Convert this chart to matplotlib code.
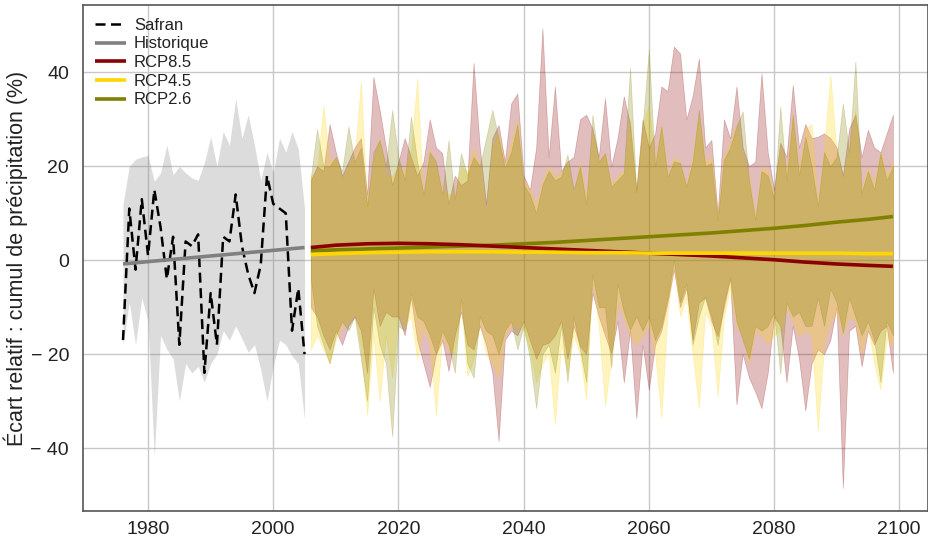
import numpy as np
import matplotlib
matplotlib.use("Agg")
import matplotlib.pyplot as plt

plt.rcParams['font.family'] = ['Liberation Sans', 'DejaVu Sans']

# ---------------- data ----------------
hist_years = list(range(1976, 2006))
safran = [-17, 11, -2, 13, 1, 15, 7, -4, 5, -18, 4, 3, 5.5, -24, -7, -18, 5, 4, 14, 3,
          -3, -7, -1, 18, 12, 11, 10, -15, -6, -20]
hist_upper = [12, 20, 21.5, 22, 22.3, 16.8, 18.6, 24.5, 18.2, 20, 18.6, 17.5, 17, 20.8, 26.3,
              20, 27.4, 24.5, 34.4, 26, 31, 24.5, 17, 23, 18.6, 26, 23, 27.4, 23.7, 11]
hist_lower = [-18, -9, -18, -8, -13, -42, -16, -19, -21, -30, -22, -24, -22.6, -26, -22,
              -20, -15, -17, -14, -16.7, -19.6, -18, -23.3, -30, -22.6, -17, -18, -20.4, -22, -34]
hist_line_years = [1976, 1980, 1985, 1990, 1995, 2000, 2005]
hist_line = [-0.8, -0.3, 0.3, 0.9, 1.5, 2.1, 2.7]

proj_years = list(range(2006, 2100))
rcp85_upper = [17, 20, 19, 29, 23, 18, 21, 24, 26, 14, 39, 32, 24, 16, 21, 26, 22, 18, 21, 30,
               24, 22.8, 12, 18, 16, 17, 42, 24, 12, 26, 28.8, 21, 33.4, 35.5,
               18, 15, 24, 49.4, 22, 37, 19, 21, 22, 30, 31, 28, 22, 34.5, 20, 26, 34.9, 29, 15, 30,
               24, 27, 37, 36, 45.5, 44, 30, 35, 43, 24,
               25.6, 10, 30, 26, 37, 24, 20, 21, 39.8, 23, 15, 25, 22, 37.3, 24, 29, 26, 26.3, 27, 26,
               24, 18, 28, 31, 22, 27.8, 24, 23, 27, 31]
rcp85_lower = [-10, -12, -16, -19, -15, -18, -14, -12, -15, -24, -6, -14, -11, -12, -12, -16, -8, -17,
               -22, -27, -20, -17, -23.6, -16, -11, -18, -19, -14, -18, -24, -38.5, -17, -15, -16,
               -13, -17, -21, -18, -17.6, -16, -13, -21, -14, -18.3, -20, -7, -12, -16, -19.8, -13,
               -26, -15, -33.6, -18, -27.6, -18, -15, -9, -2, -10, -6, -17, -9, -8,
               -13, -16.2, -10, -4, -30.7, -20, -25, -28, -31.5, -24, -12, -14, -26, -14, -21, -32,
               -22, -19, -20, -17, -10, -48.5, -15, -14, -22.6, -15, -18, -15, -14, -24]
rcp45_upper = [18, 19, 33, 21, 22, 17, 20, 22, 38, 12, 21, 26, 18, 18, 20, 19, 23, 38.8, 13, 24,
               20, 15, 14, 14, 20, 19, 24, 20, 9, 24, 27, 20, 25, 30,
               17, 15, 12, 17, 20, 18, 18.5, 21, 14, 21, 13, 27, 20.7, 23, 16, 18, 19, 30, 14, 29,
               33, 21, 29, 18, 22, 21, 16, 22, 31, 21,
               22, 9, 22, 25, 29, 22, 18, 9, 20, 19, 14, 24.2, 19, 31, 19, 28, 29, 12, 24, 39.5,
               23, 17, 24, 32, 15, 20, 16, 23, 18, 21]
rcp45_lower = [-19, -16, -19, -22, -17, -14, -13, -11, -19, -33, -16, -30, -16, -25, -11, -14, -12,
               -21, -14, -18, -33, -16, -19, -20, -9, -24.7, -21, -13, -20, -22, -25, -16, -14, -14,
               -15, -19, -26, -22, -20, -35, -18, -24, -16, -20, -29.7, -4, -14, -31, -21, -9, -12,
               -16, -18, -16, -14, -20, -33.6, -11, -1, -12, -8, -20, -31.5, -11,
               -14, -29, -12, -6, -14, -16, -22, -15, -16, -18, -16, -15, -10, -13, -16, -15, -16,
               -36.4, -18, -13, -11, -16, -12, -13, -20, -14, -22, -27.5, -17, -18]
rcp26_upper = [17.5, 28, 20, 20, 22, 19, 28.5, 21, 24, 11.5, 23, 25.6, 20, 32, 22, 17, 30.6, 21,
               14, 23, 21, 14, 25.6, 13, 22.8, 18, 22, 20, 26, 32, 26, 19.7, 23, 29,
               16, 14, 10, 16, 19, 17, 17.8, 22.5, 15, 20, 12, 31, 21, 22.8, 15.7, 17, 18.5, 41,
               14.5, 28.5, 44.8, 20, 28.5, 17.8, 21, 20.7, 15.7, 21, 32, 20,
               20.7, 8.6, 21.4, 24, 28.5, 31.7, 17, 8.6, 19, 18, 13, 32.7, 17, 31, 18, 26.3, 20,
               11.5, 23, 20, 22, 33.4, 23, 42.3, 14.3, 19, 15, 22.8, 17, 20]
rcp26_lower = [-4, -14, -18, -22, -16, -13, -15, -12, -21, -30, -10, -18, -22, -37.5, -14, -15, -7,
               -12, -13, -16, -20, -15, -18, -24, -8, -22, -25, -12, -15, -16, -20, -15, -13, -19,
               -14, -21, -31.5, -20, -18, -24, -14, -26, -12, -19, -26, -3, -10, -10, -23, -5, -11,
               -14.8, -12, -15, -12, -17, -14, -8, 0, -9, -5, -18, -12, -7.7,
               -12, -18, -9, -3.5, -13, -17, -21, -14, -15, -14, -11, -24.2, -9, -12, -11, -14, -14,
               -8, -14, -6, -9, -15.5, -8, -12, -16, -13, -17, -26, -13, -16]

line_years = [2006, 2010, 2015, 2020, 2025, 2030, 2035, 2040, 2045, 2050,
              2055, 2060, 2065, 2070, 2075, 2080, 2085, 2090, 2095, 2099]
rcp85_line = [2.7, 3.2, 3.5, 3.6, 3.5, 3.3, 3.0, 2.7, 2.4, 2.1,
              1.8, 1.5, 1.2, 0.9, 0.5, 0.1, -0.4, -0.8, -1.1, -1.3]
rcp45_line = [1.2, 1.4, 1.6, 1.7, 1.8, 1.8, 1.8, 1.7, 1.7, 1.6,
              1.6, 1.5, 1.5, 1.5, 1.5, 1.5, 1.5, 1.5, 1.4, 1.4]
rcp26_line = [2.0, 2.2, 2.4, 2.6, 2.8, 3.0, 3.2, 3.5, 3.8, 4.2,
              4.6, 5.0, 5.4, 5.8, 6.3, 6.8, 7.4, 8.1, 8.7, 9.3]

x_ticks = [1980, 2000, 2020, 2040, 2060, 2080, 2100]
y_ticks = [-40, -20, 0, 20, 40]
y_ticklabels = ['\u2212 40', '\u2212 20', '0', '20', '40']
labels = ['Safran', 'Historique', 'RCP8.5', 'RCP4.5', 'RCP2.6']
ylabel = "Écart relatif : cumul de précipitation (%)"

# ---------------- plot ----------------
fig = plt.figure(figsize=(9.29, 5.42), dpi=100)
ax = fig.add_axes([0.0893, 0.0572, 0.9096, 0.9332])

c85, c45, c26 = '#8B0000', '#FFD700', '#808000'
band_alpha = 0.26

ax.fill_between(hist_years, hist_lower, hist_upper, color='grey', alpha=0.27, lw=0)
ax.fill_between(proj_years, rcp85_lower, rcp85_upper, facecolor=c85, alpha=band_alpha,
                edgecolor=c85, lw=0.5)
ax.fill_between(proj_years, rcp45_lower, rcp45_upper, facecolor=c45, alpha=band_alpha,
                edgecolor=c45, lw=0.5)
ax.fill_between(proj_years, rcp26_lower, rcp26_upper, facecolor=c26, alpha=band_alpha,
                edgecolor=c26, lw=0.5)

l_saf, = ax.plot(hist_years, safran, color='black', lw=1.8, ls=(0, (4, 2.2)))
l_hist, = ax.plot(hist_line_years, hist_line, color='#808080', lw=2.6, solid_capstyle='butt')
l26, = ax.plot(line_years, rcp26_line, color=c26, lw=2.6, solid_capstyle='butt')
l85, = ax.plot(line_years, rcp85_line, color=c85, lw=2.6, solid_capstyle='butt')
l45, = ax.plot(line_years, rcp45_line, color=c45, lw=2.6, solid_capstyle='butt')

ax.set_xlim(1969.6, 2104.6)
ax.set_ylim(-53.4, 54.3)
ax.set_xticks(x_ticks)
ax.set_xticklabels([str(v) for v in x_ticks])
ax.set_yticks(y_ticks)
ax.set_yticklabels(y_ticklabels)
ax.tick_params(length=0, labelsize=14, colors='#222222', pad=10)
ax.tick_params(axis='x', pad=7)
ax.grid(True, color='#c8c8c8', lw=1.0)
ax.set_axisbelow(True)
for s in ax.spines.values():
    s.set_color('#555555')
    s.set_linewidth(1.2)

ax.set_ylabel(ylabel, fontsize=15.5, color='#222222', labelpad=2)

leg = ax.legend([l_saf, l_hist, l85, l45, l26], labels, loc='upper left', frameon=False,
                fontsize=12, handlelength=1.85, handletextpad=0.45, labelspacing=0.22,
                borderaxespad=0.4, borderpad=0.35)
for t in leg.get_texts():
    t.set_color('#222222')

fig.savefig('out.png', dpi=100)
